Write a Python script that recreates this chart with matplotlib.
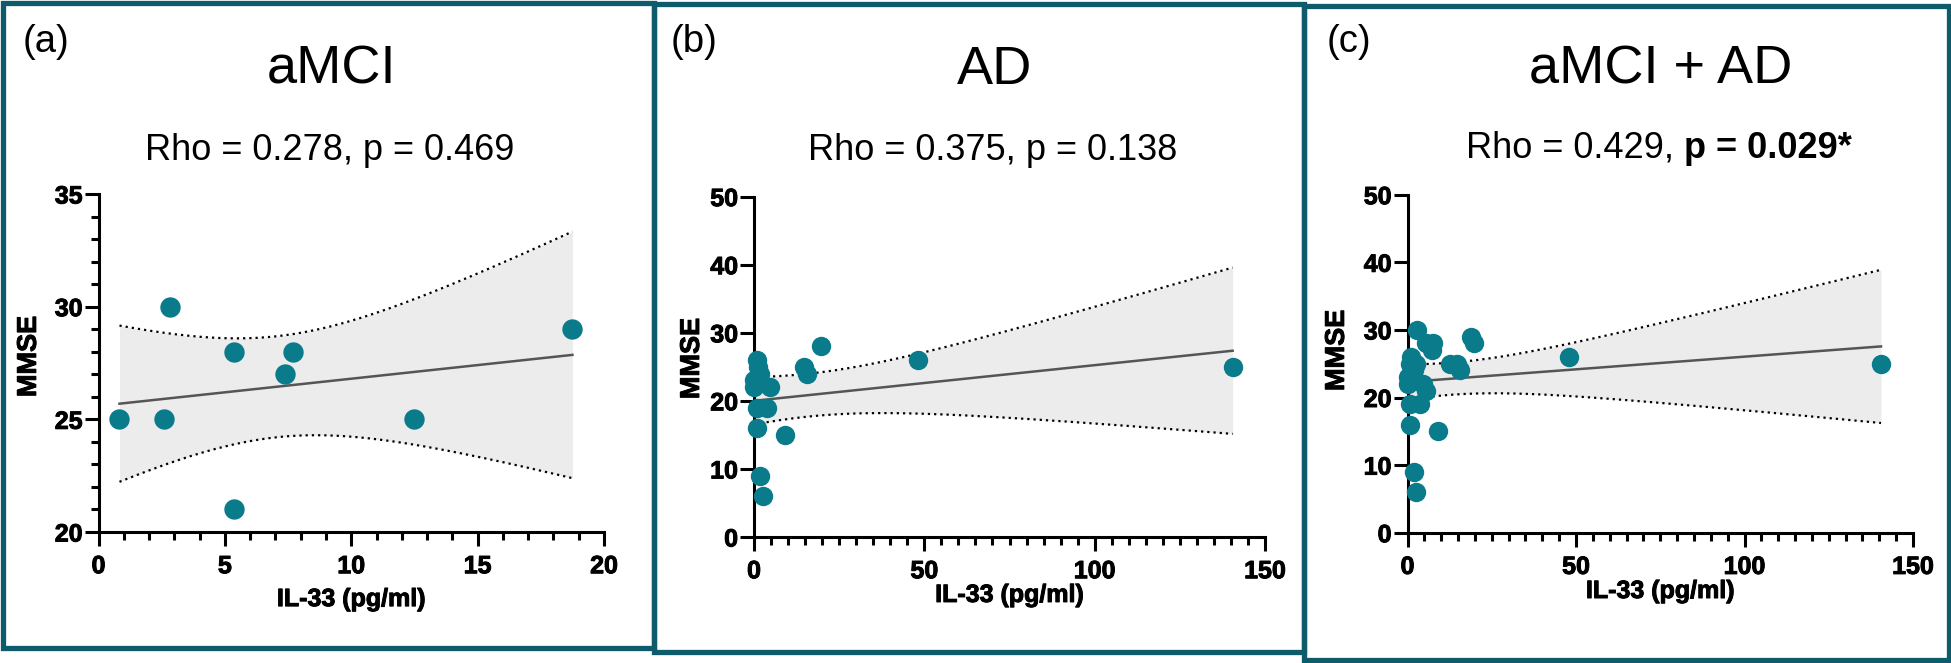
import numpy as np
import matplotlib
matplotlib.use('Agg')
import matplotlib.pyplot as plt
import matplotlib.patheffects as pe
from matplotlib.patches import Rectangle

plt.rcParams['font.family'] = ['Liberation Sans', 'DejaVu Sans']
plt.rcParams['font.weight'] = 'bold'   # axis text is bold; panel texts set back to normal

# values: IL-33 (pg/ml) vs MMSE
amci_il33 = [0.83, 2.6, 2.82, 5.38, 5.38, 7.39, 7.69, 12.49, 18.75]
amci_mmse = [25, 25, 30, 28, 21, 27, 28, 25, 29]

ad_il33 = [1.0, 1.2, 1.9, 0.1, 0.1, 4.7, 0.8, 3.7, 0.8, 9.0, 1.8, 2.5, 14.8, 15.7, 19.7, 48.0, 140.5]
ad_mmse = [26, 25, 24, 23, 22, 22, 19, 19, 16, 15, 9, 6, 25, 24, 28, 26, 25]

titles = ['aMCI', 'AD', 'aMCI + AD']
letters = ['(a)', '(b)', '(c)']
rho_text = ['Rho = 0.278,', 'Rho = 0.375,', 'Rho = 0.429,']
p_text = ['p = 0.469', 'p = 0.138', 'p = 0.029*']
p_bold = [False, False, True]

# two-sided 95% t critical values, keyed by degrees of freedom
t_crit = {7: 2.365, 15: 2.131, 24: 2.064}

W, H = 1951, 663
fig = plt.figure(figsize=(W / 100, H / 100), dpi=100)

dot_color = '#0a7b8b'
frame_color = '#0e5b6c'
heavy = [pe.withStroke(linewidth=0.7, foreground='black')]


def fig_xy(x, y):
    return x / W, 1 - y / H


def fit_band(x, y):
    x = np.asarray(x, float)
    y = np.asarray(y, float)
    n = len(x)
    slope, icpt = np.polyfit(x, y, 1)
    resid = y - (slope * x + icpt)
    s = np.sqrt(np.sum(resid ** 2) / (n - 2))
    xg = np.linspace(x.min(), x.max(), 300)
    yg = slope * xg + icpt
    se = s * np.sqrt(1 / n + (xg - x.mean()) ** 2 / np.sum((x - x.mean()) ** 2))
    half = t_crit[n - 2] * se
    return xg, yg, yg - half, yg + half


# panel frames (pixel coords: left, top, right, bottom)
frames = [(2.5, 2.5, 653.5, 648), (653.5, 4, 1303.5, 652), (1303.5, 6, 1948.5, 660)]
for l, t, r, b in frames:
    x0, y0 = fig_xy(l, b)
    x1, y1 = fig_xy(r, t)
    fig.add_artist(Rectangle((x0, y0), x1 - x0, y1 - y0, transform=fig.transFigure,
                             fill=False, lw=3.8, ec=frame_color, zorder=10))

axes_px = [(98.5, 194, 604, 532), (754, 196.6, 1265, 537), (1407.5, 194.7, 1913, 532.7)]
title_px = [(331, 84), (995, 84), (1661, 83)]
rho_px = [(330, 160), (993, 160), (1659, 158)]
letter_px = [(23, 52), (671, 52), (1327, 52)]
ylab_x = [-0.112, -0.096, -0.114]
ylab_y = [0.52, 0.525, 0.54]
xlab_y = [-0.163, -0.135, -0.137]

xs = [amci_il33, ad_il33, amci_il33 + ad_il33]
ys = [amci_mmse, ad_mmse, amci_mmse + ad_mmse]

renderer = fig.canvas.get_renderer()

for i in range(3):
    l, t, r, b = axes_px[i]
    x0, y0 = fig_xy(l, b)
    x1, y1 = fig_xy(r, t)
    ax = fig.add_axes([x0, y0, x1 - x0, y1 - y0])

    xg, yg, lo, hi = fit_band(xs[i], ys[i])
    ax.fill_between(xg, lo, hi, color='#ececec', lw=0, zorder=1)
    ax.plot(xg, lo, color='black', lw=1.6, ls=(0, (1, 1.8)), zorder=2)
    ax.plot(xg, hi, color='black', lw=1.6, ls=(0, (1, 1.8)), zorder=2)
    ax.plot(xg, yg, color='#555555', lw=1.8, zorder=2)
    ax.scatter(xs[i], ys[i], s=215 if i == 0 else 195, color=dot_color, lw=0,
               zorder=4, clip_on=False)

    if i == 0:
        ax.set_xlim(0, 20)
        ax.set_ylim(20, 35)
        ax.set_xticks(np.arange(0, 21, 5))
        ax.set_yticks(np.arange(20, 36, 5))
        ax.set_xticks(np.arange(0, 21, 1), minor=True)
        ax.set_yticks(np.arange(20, 36, 1), minor=True)
    else:
        ax.set_xlim(0, 150)
        ax.set_ylim(0, 50)
        ax.set_xticks(np.arange(0, 151, 50))
        ax.set_yticks(np.arange(0, 51, 10))
        ax.set_xticks(np.arange(0, 151, 5), minor=True)

    for side in ['top', 'right']:
        ax.spines[side].set_visible(False)
    for side in ['left', 'bottom']:
        ax.spines[side].set_linewidth(2.2)
        ax.spines[side].set_capstyle('projecting')
    ax.tick_params(which='major', length=10, width=2.2, labelsize=18)
    ax.tick_params(which='minor', length=5.5, width=2.2)
    ax.tick_params(axis='x', which='major', pad=6)
    ax.tick_params(axis='y', which='major', pad=1.5)
    for lbl in ax.get_xticklabels() + ax.get_yticklabels():
        lbl.set_path_effects(heavy)

    ax.set_xlabel('IL-33 (pg/ml)', fontsize=18, fontweight='bold', path_effects=heavy)
    ax.xaxis.set_label_coords(0.5, xlab_y[i])
    ax.set_ylabel('MMSE', fontsize=19.5, fontweight='bold', path_effects=heavy)
    ax.yaxis.set_label_coords(ylab_x[i], ylab_y[i])

    # panel texts
    tx, ty = fig_xy(*title_px[i])
    fig.text(tx, ty, titles[i], fontsize=39, fontweight='normal', ha='center', va='baseline')
    lx, ly = fig_xy(*letter_px[i])
    fig.text(lx, ly, letters[i], fontsize=27.5, fontweight='normal', ha='left', va='baseline')

    # Rho line, with the p part bold where significant
    cx, by = rho_px[i]
    t1 = fig.text(0, 0, rho_text[i], fontsize=26, fontweight='normal', va='baseline')
    t2 = fig.text(0, 0, p_text[i], fontsize=26, va='baseline',
                  fontweight='bold' if p_bold[i] else 'normal')
    w1 = t1.get_window_extent(renderer).width
    w2 = t2.get_window_extent(renderer).width
    gap = 0.278 * 26 * 100 / 72
    start = cx - (w1 + gap + w2) / 2
    t1.set_position(fig_xy(start, by))
    t2.set_position(fig_xy(start + w1 + gap, by))

fig.savefig('out.png', dpi=100, facecolor='white')
